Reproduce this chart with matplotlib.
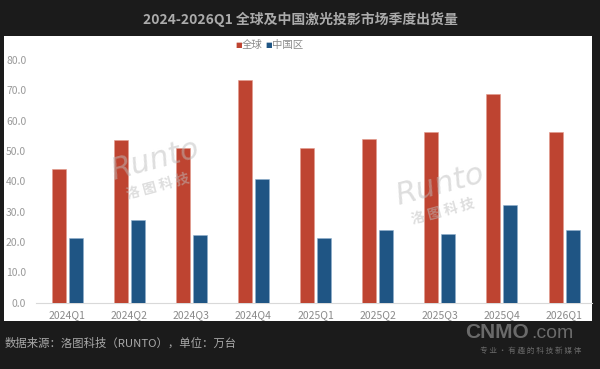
import matplotlib
matplotlib.use("Agg")
import matplotlib.pyplot as plt
import numpy as np

plt.rcParams['font.family'] = ['Noto Sans CJK SC', 'DejaVu Sans']

categories = ["2024Q1", "2024Q2", "2024Q3", "2024Q4", "2025Q1", "2025Q2", "2025Q3", "2025Q4", "2026Q1"]
global_vals = [44.1, 53.6, 50.9, 73.4, 51.1, 54.1, 56.3, 68.9, 56.2]
china_vals = [21.2, 27.2, 22.2, 40.7, 21.2, 23.9, 22.5, 32.3, 23.9]
yticks = [0, 10, 20, 30, 40, 50, 60, 70, 80]
series_names = ["全球", "中国区"]
title = "2024-2026Q1 全球及中国激光投影市场季度出货量"
source = "数据来源：洛图科技（RUNTO），单位：万台"

W, H = 600, 369
fig = plt.figure(figsize=(6, 3.69), dpi=100)
fig.patch.set_facecolor("#1b1b1b")

def fx(px):
    return px / W

def fy(py):
    return 1 - py / H

# white panel as a background axes
bg = fig.add_axes([fx(4), fy(321), fx(592) - fx(4), fy(36) - fy(321)])
bg.set_facecolor("white")
bg.set_xticks([])
bg.set_yticks([])
for s in bg.spines.values():
    s.set_visible(False)
bg.set_zorder(0)

ax = fig.add_axes([fx(36), fy(302.7), fx(592) - fx(36), fy(60) - fy(302.7)])
ax.set_zorder(1)
ax.set_facecolor("none")
red = "#be4431"
blue = "#1f5584"
x = np.arange(len(categories))
w = 0.225
off = 0.137
ax.bar(x - off, global_vals, width=w, color=red, edgecolor="#e29a8e", linewidth=0.4, zorder=3)
ax.bar(x + off, china_vals, width=w, color=blue, edgecolor="#8fb0cc", linewidth=0.4, zorder=3)
ax.set_xlim(-0.5, len(categories) - 0.55)
ax.set_ylim(0, 80)
ax.set_yticks(yticks)
ax.set_yticklabels([f"{v:.1f}" for v in yticks], color="#9a9a9a", fontsize=7.5)
ax.set_xticks(x)
ax.set_xticklabels(categories, color="#8a8a8a", fontsize=7.5)
ax.tick_params(axis="both", length=0)
ax.tick_params(axis="y", pad=7)
ax.tick_params(axis="x", pad=5)
for s in ["top", "right", "left"]:
    ax.spines[s].set_visible(False)
ax.spines["bottom"].set_color("#d9d9d9")
ax.spines["bottom"].set_linewidth(0.8)

# watermarks
for (wx, wy) in [(155, 160), (440, 185)]:
    fig.text(fx(wx), fy(wy), "Runto", fontsize=22, color="#bdbdbd", alpha=0.5,
             rotation=15, ha="center", va="center", style="italic", family="DejaVu Sans", zorder=5)
    fig.text(fx(wx + 3), fy(wy + 27), "洛 图 科 技", fontsize=10, color="#bdbdbd", alpha=0.5,
             rotation=15, ha="center", va="center", fontweight="bold", zorder=5)

# title
fig.text(0.5, fy(19), title, ha="center", va="center", fontsize=10, fontweight="bold", color="#ababab")

# legend
ly = fy(45)
fig.text(fx(235), ly, "■", fontsize=5, color=red, va="center", ha="left", family="DejaVu Sans", zorder=5)
fig.text(fx(242), ly, series_names[0], fontsize=7.5, color="#8a8a8a", va="center", ha="left", zorder=5)
fig.text(fx(265), ly, "■", fontsize=5, color=blue, va="center", ha="left", family="DejaVu Sans", zorder=5)
fig.text(fx(272), ly, series_names[1], fontsize=7.5, color="#8a8a8a", va="center", ha="left", zorder=5)

# source
fig.text(fx(5), fy(343), source, fontsize=8.2, color="#a9a9a9", va="center", ha="left")

# CNMO logo
fig.text(fx(465), fy(333), "CNMO", fontsize=15, fontweight="bold", color="#6a6a6a",
         va="center", ha="left", family="Liberation Sans")
fig.text(fx(531), fy(334), ".com", fontsize=14, color="#6a6a6a", va="center", ha="left", family="Liberation Sans")
fig.text(fx(531), fy(351), "专 业 · 有 趣 的 科 技 新 媒 体", fontsize=5.5, color="#6a6a6a", va="center", ha="center")

fig.savefig("out.png", dpi=100, facecolor=fig.get_facecolor())
